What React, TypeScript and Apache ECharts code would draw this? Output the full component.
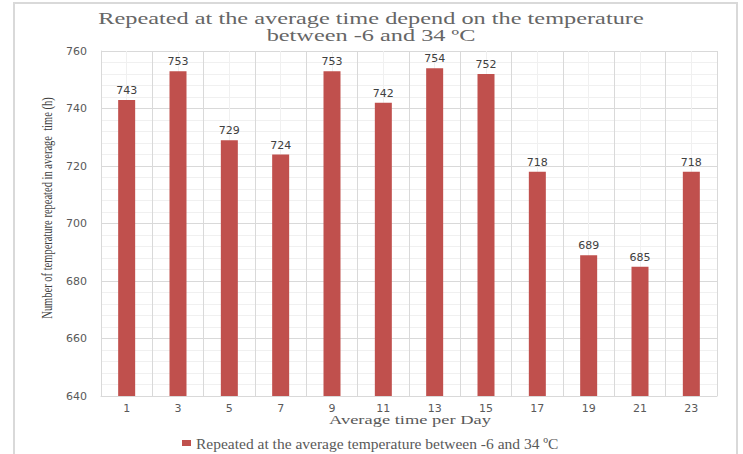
import React, { useEffect, useRef } from "react";
import * as echarts from "echarts";

const categories = ["1", "3", "5", "7", "9", "11", "13", "15", "17", "19", "21", "23"];
const values = [743, 753, 729, 724, 753, 742, 754, 752, 718, 689, 685, 718];
const halfCategories = Array.from({ length: 24 }, (_, i) => String(i));
const seriesName = "Repeated at the average temperature between -6 and 34 ºC";
const titleLine1 = "Repeated at the average time depend on the temperature";
const titleLine2 = "between -6 and 34 ºC";
const yName = "Number of temperature repeated in average  time (h)";
const xName = "Average time per Day";

export default function App() {
  const ref = useRef<HTMLDivElement>(null);
  useEffect(() => {
    if (!ref.current) return;
    const chart = echarts.init(ref.current, undefined, { renderer: "svg" });
    const serif = "Liberation Serif";
    chart.setOption({
      animation: false,
      backgroundColor: "#ffffff",
      grid: { left: 101, top: 51, right: 26, bottom: 58, containLabel: false },
      legend: {
        show: true,
        top: 435,
        left: 182,
        padding: 0,
        icon: "rect",
        itemWidth: 9,
        itemHeight: 6,
        itemGap: 4,
        textStyle: { fontFamily: serif, fontSize: 15.5, color: "#595959", lineHeight: 16 },
        data: [seriesName],
      },
      xAxis: [
        {
          type: "category",
          data: categories,
          boundaryGap: true,
          axisLine: { show: true, lineStyle: { color: "#d9d9d9", width: 1 } },
          axisTick: { show: false },
          axisLabel: { fontFamily: "DejaVu Sans", fontSize: 11, color: "#595959", margin: 7 },
          splitLine: { show: true, interval: 0, lineStyle: { color: "#d9d9d9", width: 1 } },
          z: 3,
        },
        {
          type: "category",
          data: halfCategories,
          boundaryGap: true,
          position: "bottom",
          axisLine: { show: false },
          axisTick: { show: false },
          axisLabel: { show: false },
          splitLine: { show: true, interval: 0, lineStyle: { color: "#f0f0f0", width: 1 } },
        },
      ],
      yAxis: {
        type: "value",
        min: 640,
        max: 760,
        interval: 20,
        axisLine: { show: true, lineStyle: { color: "#d9d9d9" } },
        axisTick: { show: false },
        axisLabel: { fontFamily: "DejaVu Sans", fontSize: 11, color: "#595959", margin: 14 },
        splitLine: { show: true, lineStyle: { color: "#d9d9d9", width: 1 } },
        minorTick: { show: false, splitNumber: 5 },
        minorSplitLine: { show: true, lineStyle: { color: "#f0f0f0", width: 1 } },
      },
      series: [
        {
          name: seriesName,
          type: "bar",
          data: values,
          xAxisIndex: 0,
          barWidth: 17,
          itemStyle: { color: "#c0504d" },
          label: {
            show: true,
            position: "top",
            distance: 4,
            fontFamily: "DejaVu Sans",
            fontSize: 11,
            color: "#404040",
          },
          z: 4,
        },
      ],
      graphic: [
        {
          type: "rect",
          shape: { x: 14, y: 3, width: 723, height: 470 },
          style: { fill: "none", stroke: "#d9d9d9", lineWidth: 2 },
          silent: true,
        },
        {
          type: "text",
          x: 371,
          y: 19,
          scaleX: 1.52,
          style: {
            text: titleLine1,
            align: "center",
            verticalAlign: "middle",
            fontFamily: serif,
            fontSize: 16,
            fill: "#666666",
          },
        },
        {
          type: "text",
          x: 371,
          y: 36,
          scaleX: 1.52,
          style: {
            text: titleLine2,
            align: "center",
            verticalAlign: "middle",
            fontFamily: serif,
            fontSize: 16,
            fill: "#666666",
          },
        },
        {
          type: "text",
          x: 47,
          y: 208,
          rotation: Math.PI / 2,
          scaleX: 0.7,
          style: {
            text: yName,
            align: "center",
            verticalAlign: "middle",
            fontFamily: serif,
            fontSize: 15,
            fill: "#404040",
          },
        },
        {
          type: "text",
          x: 410,
          y: 420,
          scaleX: 1.42,
          style: {
            text: xName,
            align: "center",
            verticalAlign: "middle",
            fontFamily: serif,
            fontSize: 13,
            fill: "#595959",
          },
        },
      ],
    });
    return () => chart.dispose();
  }, []);
  return (
    <div
      ref={ref}
      style={{ position: "absolute", left: 0, top: 0, width: 743, height: 454 }}
    />
  );
}
